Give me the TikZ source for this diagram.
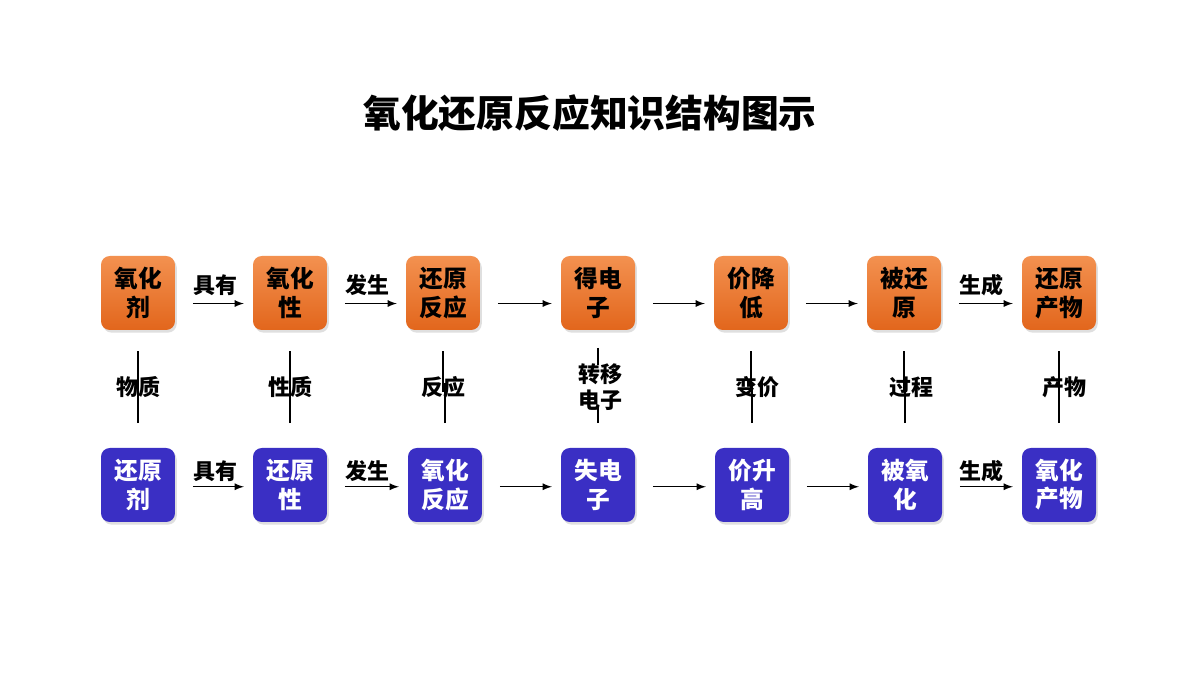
\documentclass[tikz,border=0pt]{standalone}
\usepackage{fontspec}
\newfontfamily\cjk{Noto Sans CJK SC}
\usepackage{tikz}
\usetikzlibrary{positioning,shadows}
\definecolor{ortop}{HTML}{F39150}
\definecolor{orbot}{HTML}{E2661C}
\definecolor{blu}{HTML}{3A2FC4}
\tikzset{
  box/.style={rounded corners=5pt,minimum width=1.48cm,minimum height=1.48cm,inner sep=0pt,
    align=center,font=\cjk\bfseries\fontsize{13.5}{16.5}\selectfont,
    drop shadow={shadow xshift=1pt,shadow yshift=-1.5pt,opacity=0.25}},
  ox/.style={box,top color=ortop,bottom color=orbot,text=black},
  rd/.style={box,fill=blu,text=white},
  lab/.style={font=\cjk\bfseries\fontsize{12.5}{15}\selectfont,align=center,inner sep=1pt},
  arr/.style={->,>=latex,line width=0.8pt},
  vl/.style={line width=0.8pt,shorten >=11pt,shorten <=12pt}
}
\begin{document}
\begin{tikzpicture}[x=0.02cm,y=0.02cm]
  \useasboundingbox (0,0) rectangle (1200,675);
  \node[font=\cjk\bfseries\fontsize{21.5}{24}\selectfont] (title) at (590,562) {氧化还原反应知识结构图示};
  % top row
  \node[ox] (o1) at (138,382) {氧化\\剂};
  \node[ox] (o2) at (290,382) {氧化\\性};
  \node[ox] (o3) at (443,382) {还原\\反应};
  \node[ox] (o4) at (598,382) {得电\\子};
  \node[ox] (o5) at (751,382) {价降\\低};
  \node[ox] (o6) at (904,382) {被还\\原};
  \node[ox] (o7) at (1059,382) {还原\\产物};
  % bottom row
  \node[rd] (r1) at (138,190) {还原\\剂};
  \node[rd] (r2) at (290,190) {还原\\性};
  \node[rd] (r3) at (445,190) {氧化\\反应};
  \node[rd] (r4) at (598,190) {失电\\子};
  \node[rd] (r5) at (752,190) {价升\\高};
  \node[rd] (r6) at (905,190) {被氧\\化};
  \node[rd] (r7) at (1059,190) {\raisebox{-4pt}{\shortstack{氧化\\产物}}};
  % middle labels
  \node[lab] (m1) at (138,288) {物质};
  \node[lab] (m2) at (290,288) {性质};
  \node[lab] (m3) at (443,288) {反应};
  \node[lab] (m4) at (600,288) {转移\\电子};
  \node[lab] (m5) at (757,288) {变价};
  \node[lab] (m6) at (911,288) {过程};
  \node[lab] (m7) at (1064,288) {产物};
  \foreach \i in {1,2,3,5,6,7}{
    \draw[line width=0.8pt] ([yshift=-12]o\i.south) -- ([yshift=-35]o\i.south);
    \draw[line width=0.8pt] ([yshift=14]r\i.north) -- ([yshift=37]r\i.north);
  }
  \draw[line width=0.8pt] ([yshift=-10]o4.south) -- ([yshift=-20]o4.south);
  \draw[line width=0.8pt] ([yshift=14]r4.north) -- ([yshift=24]r4.north);
  % arrows
  \foreach \a/\b in {1/2,2/3,3/4,4/5,5/6,6/7}{
    \draw[arr] ([xshift=10,yshift=-6]o\a.east) -- ([xshift=-5,yshift=-6]o\b.west);
    \draw[arr] ([xshift=10,yshift=-1]r\a.east) -- ([xshift=-5,yshift=-1]r\b.west);
  }
  \node[lab] at (215,390) {具有};
  \node[lab] at (367,390) {发生};
  \node[lab] at (981,390) {生成};
  \node[lab] at (215,204) {具有};
  \node[lab] at (367,204) {发生};
  \node[lab] at (981,204) {生成};
\end{tikzpicture}
\end{document}
